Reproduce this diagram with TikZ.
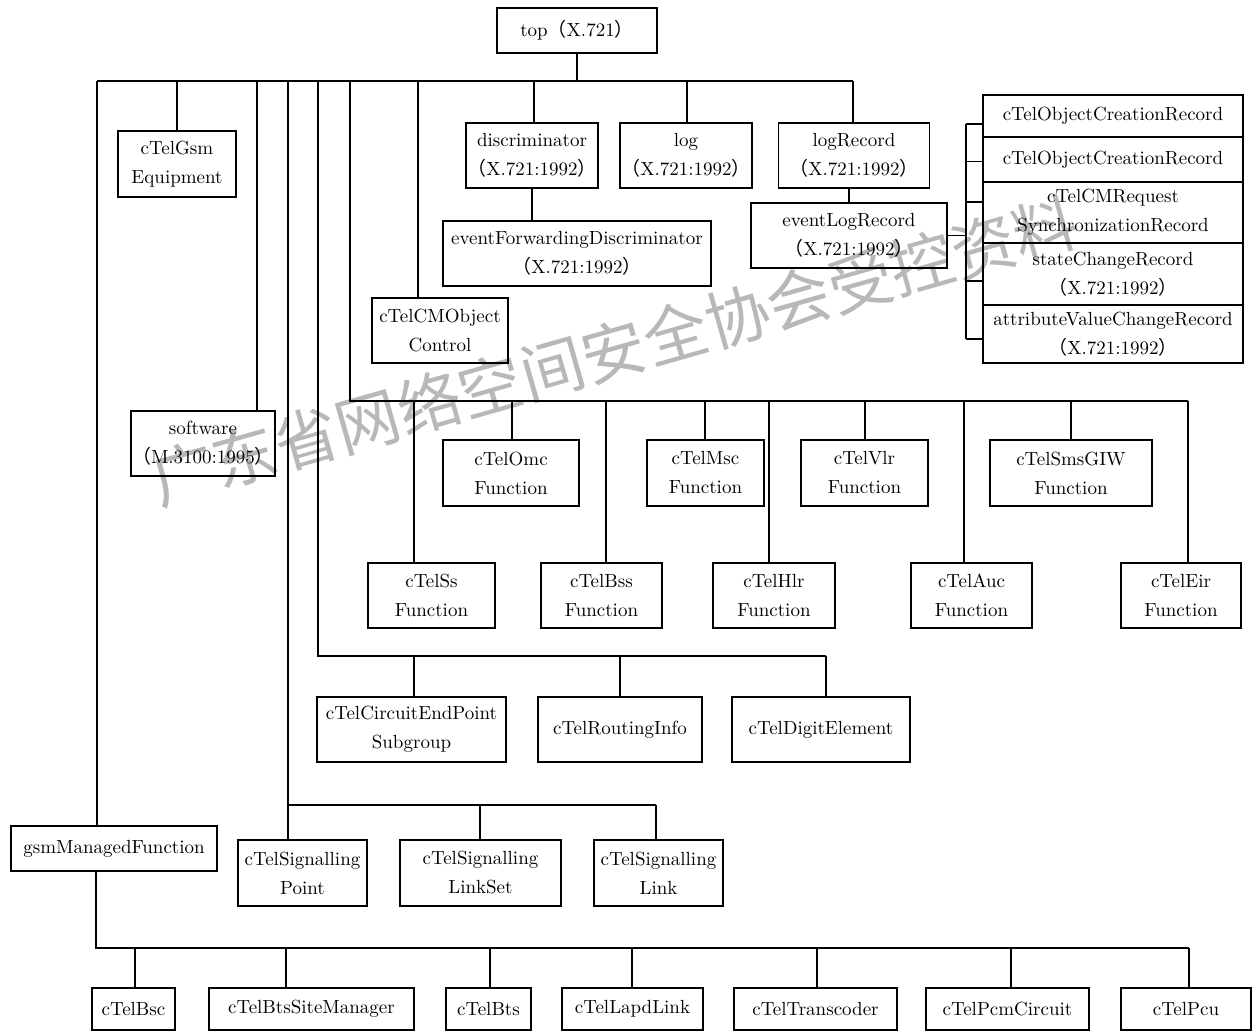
\documentclass[tikz,border=0pt]{standalone}
\usepackage{fontspec}
\newfontfamily\cjk{Noto Sans CJK SC}
\newcommand\fwl{{\cjk （}}
\newcommand\fwr{{\cjk ）}}
\begin{document}
\begin{tikzpicture}[x=0.5pt,y=-0.5pt,
  box/.style={draw, line width=0.75pt, align=center, inner sep=0pt,
    font=\addfontfeatures{FakeBold=0.7}\fontsize{9.5}{14.5}\selectfont},
  wh/.style 2 args={minimum width=#1*0.5pt, minimum height=#2*0.5pt},
  ln/.style={line width=0.6pt},
  wm/.style={text=black!28, rotate=15.9, font=\cjk\fontsize{32}{32}\selectfont}]
\useasboundingbox (0,0) rectangle (1253,1031);
\fill[white] (0,0) rectangle (1253,1031);
% watermark
\node[wm] (water) at (614,351) {广东省网络空间安全协会受控资料};

% top level
\node[box,wh={160}{45}] (top) at (577,30.5) {top\fwl X.721\fwr};
\node[box,wh={118}{66}] (gsmEq) at (177,164) {cTelGsm\\Equipment};
\node[box,wh={144}{65}] (software) at (203,443.5) {software\\\fwl M.3100:1995\fwr};
\node[box,wh={206}{45}] (gsmMF) at (114,848.5) {gsmManagedFunction};
\node[box,wh={132}{65}] (disc) at (532,155.5) {discriminator\\\fwl X.721:1992\fwr};
\node[box,wh={268}{65}] (evFwd) at (577,253.5) {eventForwardingDiscriminator\\\fwl X.721:1992\fwr};
\node[box,wh={132}{65}] (log) at (686,155.5) {log\\\fwl X.721:1992\fwr};
\node[box,wh={151}{65}] (logRec) at (854,155.5) {logRecord\\\fwl X.721:1992\fwr};
\node[box,wh={196}{65}] (evLog) at (849,235.5) {eventLogRecord\\\fwl X.721:1992\fwr};
\node[box,wh={136}{65}] (cmObj) at (440,330.5) {cTelCMObject\\Control};

% records
\node[box,wh={260}{42}] (rec1) at (1113,116) {cTelObjectCreationRecord};
\node[box,wh={260}{45}] (rec2) at (1113,159.5) {cTelObjectCreationRecord};
\node[box,wh={260}{61}] (rec3) at (1113,212.5) {cTelCMRequest\\SynchronizationRecord};
\node[box,wh={260}{62}] (rec4) at (1113,274) {stateChangeRecord\\\fwl X.721:1992\fwr};
\node[box,wh={260}{58}] (rec5) at (1113,334) {attributeValueChangeRecord\\\fwl X.721:1992\fwr};

% functions
\node[box,wh={136}{66}] (omc) at (511,473) {cTelOmc\\Function};
\node[box,wh={117}{66}] (msc) at (705.5,473) {cTelMsc\\Function};
\node[box,wh={127}{66}] (vlr) at (864.5,473) {cTelVlr\\Function};
\node[box,wh={162}{66}] (sms) at (1071,473) {cTelSmsGIW\\Function};
\node[box,wh={127}{65}] (ss) at (431.5,595.5) {cTelSs\\Function};
\node[box,wh={121}{65}] (bss) at (601.5,595.5) {cTelBss\\Function};
\node[box,wh={122}{65}] (hlr) at (774,595.5) {cTelHlr\\Function};
\node[box,wh={121}{65}] (auc) at (971.5,595.5) {cTelAuc\\Function};
\node[box,wh={120}{65}] (eir) at (1181,595.5) {cTelEir\\Function};

% circuit group
\node[box,wh={189}{65}] (cep) at (411.5,729.5) {cTelCircuitEndPoint\\Subgroup};
\node[box,wh={164}{65}] (rout) at (620,729.5) {cTelRoutingInfo};
\node[box,wh={178}{65}] (dig) at (821,729.5) {cTelDigitElement};

% signalling group
\node[box,wh={129}{66}] (sp) at (302.5,873) {cTelSignalling\\Point};
\node[box,wh={161}{66}] (sls) at (480.5,873) {cTelSignalling\\LinkSet};
\node[box,wh={129}{66}] (sl) at (658.5,873) {cTelSignalling\\Link};

% bottom row
\node[box,wh={83}{42}] (bsc) at (133.5,1009) {cTelBsc};
\node[box,wh={205}{42}] (bsm) at (311.5,1009) {cTelBtsSiteManager};
\node[box,wh={85}{42}] (bts) at (488.5,1009) {cTelBts};
\node[box,wh={141}{42}] (lapd) at (632.5,1009) {cTelLapdLink};
\node[box,wh={163}{42}] (trans) at (815.5,1009) {cTelTranscoder};
\node[box,wh={163}{42}] (pcm) at (1007.5,1009) {cTelPcmCircuit};
\node[box,wh={130}{42}] (pcu) at (1186,1009) {cTelPcu};

% ---- top bus
\coordinate (tbL) at (97,81);
\coordinate (tbR) at (853,81);
\draw[ln] (top.south) -- (top.south |- tbL);
\draw[ln] (tbL) -- (tbR);
\foreach \x/\n in {97/gsmMF,177/gsmEq,257/software,418/cmObj,534/disc,687/log,853/logRec}{
  \coordinate (t\n) at (\x,81);
  \draw[ln] (t\n) -- (t\n |- \n.north);
}
% bus drops to sub-buses
\coordinate (tsig) at (288,81);  \coordinate (sbL) at (288,805); \coordinate (sbR) at (656,805);
\coordinate (tcir) at (318,81);  \coordinate (cbL) at (318,656); \coordinate (cbR) at (826,656);
\coordinate (tfun) at (350,81);  \coordinate (fbL) at (350,401); \coordinate (fbR) at (1188,401);
\draw[ln] (tsig) -- (sbL) -- (sbR);
\draw[ln] (tcir) -- (cbL) -- (cbR);
\draw[ln] (tfun) -- (fbL) -- (fbR);

% discriminator / logRecord children
\draw[ln] (disc.south) -- (disc.south |- evFwd.north);
\draw[ln] (evLog.north) -- (evLog.north |- logRec.south);

% records fan
\coordinate (rb) at (966,235.5);
\draw[ln] (evLog.east) -- (rb);
\coordinate (r1) at ([yshift=-4pt]rec1.west);
\coordinate (r2) at ([yshift=-1pt]rec2.west);
\coordinate (r3) at ([yshift=5.25pt]rec3.west);
\coordinate (r4) at ([yshift=-3.5pt]rec4.west);
\coordinate (r5) at ([yshift=-2.5pt]rec5.west);
\draw[ln] (r1 -| rb) -- (r5 -| rb);
\foreach \r in {r1,r2,r3,r4,r5}{ \draw[ln] (\r) -- (\r -| rb); }

% function children
\foreach \x/\n in {414/ss,512/omc,606/bss,705/msc,769/hlr,865/vlr,964/auc,1071/sms,1188/eir}{
  \coordinate (f\n) at (\x,401);
  \draw[ln] (f\n) -- (f\n |- \n.north);
}
% circuit children
\foreach \x/\n in {414/cep,620/rout,826/dig}{
  \coordinate (c\n) at (\x,656);
  \draw[ln] (c\n) -- (c\n |- \n.north);
}
% signalling children
\foreach \x/\n in {288/sp,480/sls,656/sl}{
  \coordinate (s\n) at (\x,805);
  \draw[ln] (s\n) -- (s\n |- \n.north);
}
% gsmManagedFunction children
\coordinate (gbL) at (96,948);
\coordinate (gbR) at (1189,948);
\draw[ln] (gbL |- gsmMF.south) -- (gbL) -- (gbR);
\foreach \x/\n in {135/bsc,286/bsm,490/bts,632/lapd,817/trans,1011/pcm,1189/pcu}{
  \coordinate (g\n) at (\x,948);
  \draw[ln] (g\n) -- (g\n |- \n.north);
}
\end{tikzpicture}
\end{document}
